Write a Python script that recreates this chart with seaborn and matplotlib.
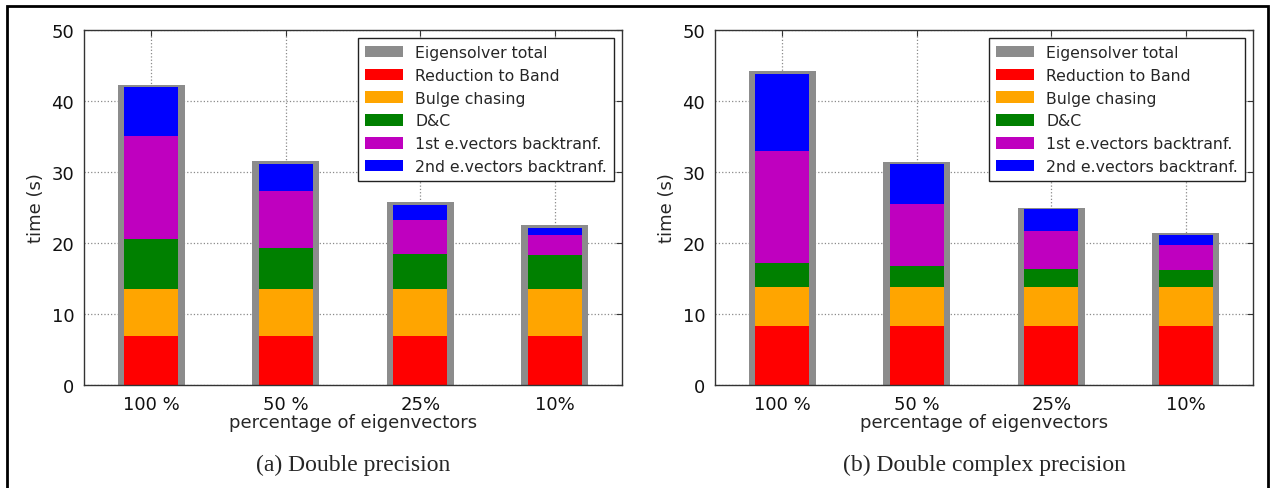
import matplotlib
matplotlib.use("Agg")
import matplotlib.pyplot as plt
from matplotlib.patches import Patch, Rectangle
import seaborn as sns
import pandas as pd
import numpy as np

categories = ["100 %", "50 %", "25%", "10%"]
series_names = ["Reduction to Band", "Bulge chasing", "D&C",
                "1st e.vectors backtranf.", "2nd e.vectors backtranf."]

# (a) Double precision
dp_reduction = [6.9, 6.9, 6.9, 6.9]
dp_bulge = [6.6, 6.6, 6.6, 6.6]
dp_dc = [7.0, 5.8, 5.0, 4.75]
dp_back1 = [14.6, 8.0, 4.7, 2.85]
dp_back2 = [6.9, 3.8, 2.15, 1.05]
dp_total = [42.3, 31.5, 25.8, 22.5]

# (b) Double complex precision
zp_reduction = [8.3, 8.3, 8.3, 8.3]
zp_bulge = [5.5, 5.5, 5.5, 5.5]
zp_dc = [3.4, 2.9, 2.6, 2.4]
zp_back1 = [15.8, 8.75, 5.3, 3.5]
zp_back2 = [10.8, 5.65, 3.1, 1.4]
zp_total = [44.2, 31.4, 25.0, 21.4]

captions = ["(a) Double precision", "(b) Double complex precision"]

colors = ["#ff0000", "#ffa500", "#008000", "#bf00bf", "#0000ff"]
total_color = "#8c8c8c"

sns.set_style("white")
plt.rcParams["font.family"] = ["DejaVu Sans"]

W, H = 1273, 489
fig = plt.figure(figsize=(W / 100, H / 100), dpi=100)
fig.patch.set_facecolor("white")

panels = [
    (84, [dp_reduction, dp_bulge, dp_dc, dp_back1, dp_back2], dp_total),
    (715, [zp_reduction, zp_bulge, zp_dc, zp_back1, zp_back2], zp_total),
]

ax_w, ax_top, ax_bot = 538, 31, 386
for (left, comps, total), cap in zip(panels, captions):
    ax = fig.add_axes([left / W, (H - ax_bot) / H, ax_w / W, (ax_bot - ax_top) / H])
    df = pd.DataFrame({"pct": categories, "total": total})
    cum = np.cumsum(np.array(comps, dtype=float), axis=0)
    for i, name in enumerate(series_names):
        df[name] = cum[i]
    ax.set_axisbelow(True)
    sns.barplot(data=df, x="pct", y="total", order=categories, color=total_color,
                saturation=1, width=0.5, linewidth=0, errorbar=None, ax=ax)
    for i in range(len(series_names) - 1, -1, -1):
        sns.barplot(data=df, x="pct", y=series_names[i], order=categories,
                    color=colors[i], saturation=1, width=0.4, linewidth=0,
                    errorbar=None, ax=ax)
    ax.grid(True, axis="both", color="#8a8a8a", linestyle=":", linewidth=0.9)
    ax.set_xlim(-0.5, 3.5)
    ax.set_ylim(0, 50)
    ax.set_yticks([0, 10, 20, 30, 40, 50])
    ax.set_xlabel("percentage of eigenvectors", fontsize=13, labelpad=0)
    ax.set_ylabel("time (s)", fontsize=13, labelpad=5)
    ax.tick_params(axis="both", which="both", direction="in", length=4,
                   top=True, right=True, labelsize=13, color="#333333",
                   labelcolor="#111111", pad=7)
    for s in ax.spines.values():
        s.set_visible(True)
        s.set_color("#333333")
        s.set_linewidth(1.0)
    handles = [Patch(facecolor=total_color, edgecolor="none", label="Eigensolver total")]
    handles += [Patch(facecolor=c, edgecolor="none", label=n) for c, n in zip(colors, series_names)]
    leg = ax.legend(handles=handles, loc="upper right", fontsize=11.3, fancybox=False,
                    framealpha=1, edgecolor="#222222", borderaxespad=0.5,
                    handlelength=2.4, handleheight=0.75, labelspacing=0.5,
                    borderpad=0.45, handletextpad=0.8)
    leg.get_frame().set_linewidth(1.0)
    fig.text((left + ax_w / 2) / W, 1 - 465 / H, cap, ha="center", va="center",
             fontsize=17, family="Liberation Serif")

fig.add_artist(Rectangle((7 / W, -0.05), (1268 - 7) / W, 1.05 - 7 / H,
                         transform=fig.transFigure, fill=False,
                         edgecolor="black", linewidth=2, clip_on=False))

fig.savefig("out.png", dpi=100, facecolor="white")
